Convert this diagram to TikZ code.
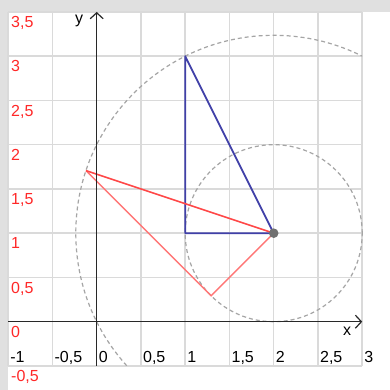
\documentclass[tikz,border=0pt]{standalone}
\usepackage{fontspec}
\setmainfont{Liberation Sans}
\usetikzlibrary{arrows.meta}
\definecolor{bandgray}{RGB}{224,224,224}
\definecolor{gridgray}{RGB}{218,218,218}
\definecolor{dashgray}{RGB}{165,165,165}
\definecolor{triblue}{RGB}{64,64,168}
\definecolor{redA}{RGB}{255,72,72}
\definecolor{redB}{RGB}{255,118,118}
\definecolor{labred}{RGB}{255,40,40}
\definecolor{ptgray}{RGB}{112,112,112}
\definecolor{axisgray}{RGB}{40,40,40}
\tikzset{
  gridline/.style={gridgray, line width=1.5pt},
  dashcircle/.style={dashgray, line width=1.2pt, dash pattern=on 4pt off 3pt},
  tri/.style={triblue, line width=1.8pt, line join=round},
  redthin/.style={redB, line width=1.5pt},
  redthick/.style={redA, line width=1.6pt},
  axisline/.style={axisgray, line width=1.5pt, -{Straight Barb[length=6pt,width=13pt,line width=1.2pt]}},
  ylab/.style={labred, font=\fontsize{16}{18}\selectfont, inner sep=0pt, anchor=base west},
  xlab/.style={black, font=\fontsize{16}{18}\selectfont, inner sep=0pt, anchor=base west},
  axlab/.style={black, font=\fontsize{16}{18}\selectfont, inner sep=0pt},
}
\begin{document}
\begin{tikzpicture}[x=88.5pt,y=88.5pt]
\useasboundingbox (-96.7pt,-68.3pt) rectangle (293.3pt,321.7pt);
\fill[white] (-96.7pt,-68.3pt) rectangle (293.3pt,321.7pt);
\fill[bandgray] (-96.7pt,309.9pt) rectangle (293.3pt,321.7pt);
\fill[bandgray] (-96.7pt,-68.3pt) rectangle (-89.0pt,321.7pt);
\draw[gridline] (-1,-0.5) grid[step=0.5] (3,3.5);
\coordinate (A) at (1,1);
\coordinate (B) at (1,3);
\coordinate (C) at (2,1);
\coordinate (Ap) at (1.2929,0.2929);
\coordinate (Bp) at (-0.1213,1.7071);
\draw[dashcircle] (C) circle[radius=1];
\begin{scope}
  \clip (-1,-0.5) rectangle (3,3.5);
  \draw[dashcircle] (C) circle[radius=2.2361];
\end{scope}
\draw[tri] (A) -- (B) -- (C) -- cycle;
\draw[redthin] (C) -- (Ap) -- (Bp);
\draw[redthick] (Bp) -- (C);
\coordinate (xs) at (-1,0);
\coordinate (xe) at (3,0);
\coordinate (ys) at (0,-0.5);
\coordinate (ye) at (0,3.5);
\draw[axisline] (xs) -- (xe);
\draw[axisline] (ys) -- (ye);
\fill[ptgray] (C) circle[radius=4.8pt];
\node[axlab] (xl) at (2.83,-0.105) {x};
\node[axlab] (yl) at (-0.2,3.40) {y};
\foreach \v/\t/\n in {3.5/{3,5}/a,3/{3}/b,2.5/{2,5}/c,2/{2}/d,1.5/{1,5}/e,1/{1}/f,0.5/{0,5}/g,0/{0}/h,-0.5/{-0,5}/i}
  \node[ylab, xshift=2.8pt, yshift=-15.7pt] (yt\n) at (-1,\v) {\t};
\foreach \v/\t/\n in {-1/{-1}/a,-0.5/{-0,5}/b,0/{0}/c,0.5/{0,5}/d,1/{1}/e,1.5/{1,5}/f,2/{2}/g,2.5/{2,5}/h,3/{3}/i}
  \node[xlab, xshift=2pt, yshift=3pt] (xt\n) at (\v,-0.5) {\t};
\end{tikzpicture}
\end{document}
